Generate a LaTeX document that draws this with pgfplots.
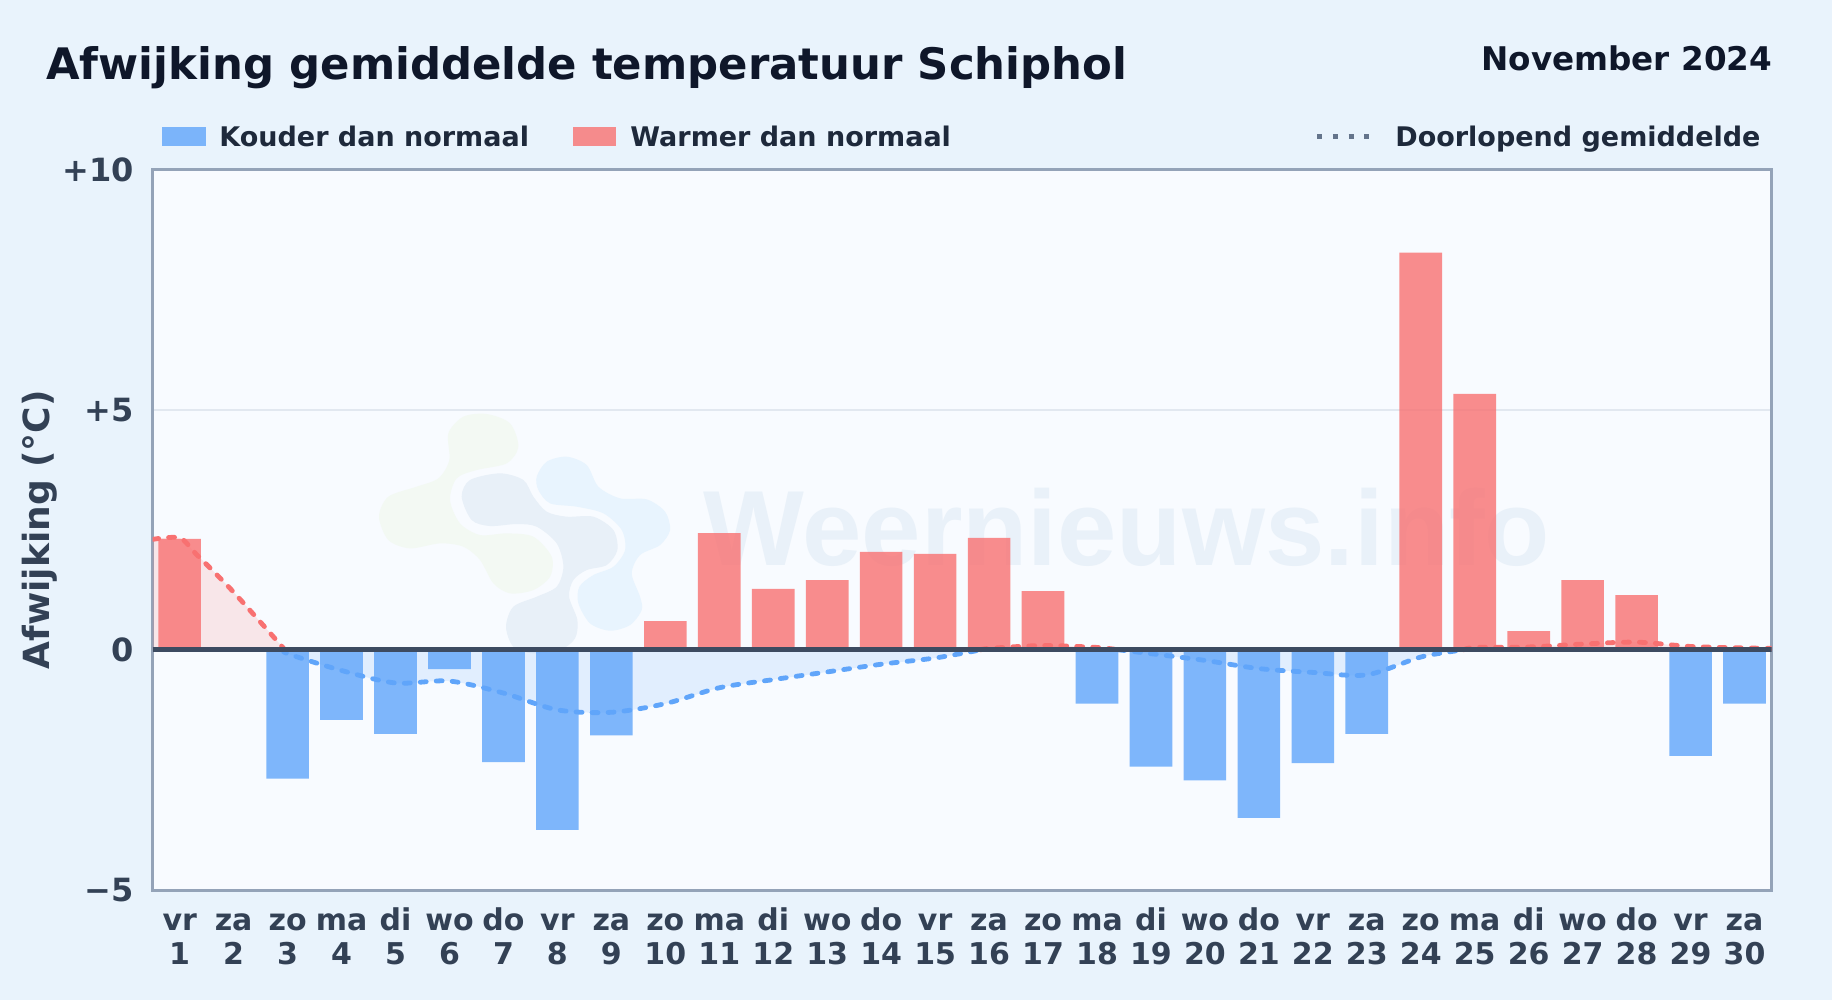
\documentclass[border=0pt]{standalone}
\usepackage{fontspec}
\setmainfont{DejaVu Sans}
\newfontfamily\wmfont{Liberation Sans}
\usepackage{pgfplots}
\pgfplotsset{compat=1.18}

% one reference pixel = 0.5pt
\definecolor{pagebg}{HTML}{E9F3FC}
\definecolor{plotbg}{HTML}{F8FBFF}
\definecolor{framec}{HTML}{94A3B8}
\definecolor{gridc}{HTML}{E2E8F0}
\definecolor{zeroc}{HTML}{3D4B61}
\definecolor{titlec}{HTML}{0F172A}
\definecolor{legc}{HTML}{1E293B}
\definecolor{tickc}{HTML}{334155}
\definecolor{coldc}{HTML}{60A5FA}
\definecolor{warmc}{HTML}{F87171}
\definecolor{dotc}{HTML}{64748B}
\definecolor{wmtext}{HTML}{E9F1F9}
\definecolor{logoa}{HTML}{F3F9F3}
\definecolor{logob}{HTML}{E8F0F8}
\definecolor{logoc}{HTML}{E8F4FE}

% tick label: weekday over day number, same height for all
\newcommand\dl[2]{\rule{0pt}{12pt}#1\\#2}

% bars: day, deviation
\pgfplotstableread{
x y
3 -2.68
4 -1.46
5 -1.75
6 -0.40
7 -2.34
8 -3.75
9 -1.78
18 -1.12
19 -2.43
20 -2.72
21 -3.50
22 -2.36
23 -1.75
29 -2.21
30 -1.12
}\coldbars
\pgfplotstableread{
x y
1 2.31
10 0.60
11 2.43
12 1.27
13 1.45
14 2.04
15 2.00
16 2.33
17 1.22
24 8.27
25 5.33
26 0.39
27 1.45
28 1.14
}\warmbars

\begin{document}
\begin{tikzpicture}
\begin{scope}[x=0.5pt,y=-0.5pt]
  \path[use as bounding box] (0,0) rectangle (1832,1000);
  \fill[pagebg] (0,0) rectangle (1832,1000);
  \fill[plotbg] (152.7,169.5) rectangle (1771.5,890);
  % watermark
  \node[anchor=base west,inner sep=0pt,text=wmtext,font=\fontsize{53.4}{53.4}\selectfont\wmfont\bfseries] at (703,565) {Weernieuws.info};
  \begin{scope}[shift={(360,390)},x=0.1667pt,y=-0.1667pt]
    \fill[logoa] plot[smooth cycle] coordinates {(265,130)(310,80)(380,72)(450,100)(475,170)(440,220)(350,240)(290,265)(270,330)(300,400)(360,435)(440,430)(520,440)(575,500)(570,560)(520,600)(450,610)(400,580)(360,510)(310,470)(240,460)(150,475)(85,450)(57,380)(85,320)(170,290)(235,265)(268,210)};
    \fill[logob] plot[smooth cycle] coordinates {(305,320)(330,270)(420,250)(490,270)(520,320)(560,365)(620,380)(700,380)(760,420)(772,480)(740,525)(680,540)(640,570)(627,620)(652,690)(645,745)(600,780)(520,790)(460,770)(438,710)(460,650)(530,620)(590,590)(610,530)(590,460)(530,410)(470,402)(390,408)(335,390)};
    \fill[logoc] plot[smooth cycle] coordinates {(530,260)(560,215)(620,200)(680,225)(715,290)(780,325)(860,328)(915,365)(930,420)(900,465)(840,495)(815,550)(840,620)(845,660)(810,705)(750,722)(690,700)(655,640)(658,590)(700,555)(760,530)(795,480)(785,420)(730,370)(650,350)(570,340)(535,300)};
  \end{scope}
  % title
  \node[anchor=base west,inner sep=0pt,text=titlec,font=\fontsize{21.7}{21.7}\selectfont\bfseries] at (46,80) {Afwijking gemiddelde temperatuur Schiphol};
  \node[anchor=base east,inner sep=0pt,text=titlec,font=\fontsize{16.3}{16.3}\selectfont\bfseries] at (1772.5,71) {November 2024};
  % legend
  \fill[coldc,fill opacity=0.8] (161.5,127) rectangle (206,146);
  \node[anchor=base west,inner sep=0pt,text=legc,font=\fontsize{13.5}{13.5}\selectfont\bfseries] at (219,147) {Kouder dan normaal};
  \fill[warmc,fill opacity=0.8] (573,127) rectangle (616,146);
  \node[anchor=base west,inner sep=0pt,text=legc,font=\fontsize{13.5}{13.5}\selectfont\bfseries] at (630,147) {Warmer dan normaal};
  \draw[dotc,line width=2.2pt,dash pattern=on 2.5pt off 5.4pt] (1317,136.7) -- (1373,136.7);
  \node[anchor=base west,inner sep=0pt,text=legc,font=\fontsize{13.5}{13.5}\selectfont\bfseries] at (1395,147) {Doorlopend gemiddelde};
\end{scope}

\begin{axis}[
    at={(76.35pt,-445pt)},
    anchor=south west,
    scale only axis,
    width=809.4pt,
    height=360.25pt,
    xmin=0.5, xmax=30.5,
    ymin=-5, ymax=10,
    axis line style={framec,line width=1.5pt},
    major tick length=0pt,
    ymajorgrids,
    grid style={gridc,line width=1pt},
    xtick={1,...,30},
    xticklabels={{\dl{vr}{1}},{\dl{za}{2}},{\dl{zo}{3}},{\dl{ma}{4}},{\dl{di}{5}},{\dl{wo}{6}},{\dl{do}{7}},{\dl{vr}{8}},{\dl{za}{9}},{\dl{zo}{10}},{\dl{ma}{11}},{\dl{di}{12}},{\dl{wo}{13}},{\dl{do}{14}},{\dl{vr}{15}},{\dl{za}{16}},{\dl{zo}{17}},{\dl{ma}{18}},{\dl{di}{19}},{\dl{wo}{20}},{\dl{do}{21}},{\dl{vr}{22}},{\dl{za}{23}},{\dl{zo}{24}},{\dl{ma}{25}},{\dl{di}{26}},{\dl{wo}{27}},{\dl{do}{28}},{\dl{vr}{29}},{\dl{za}{30}}},
    xticklabel style={align=center,text=tickc,font=\fontsize{15}{17}\selectfont\bfseries,yshift=-4.75pt},
    ytick={-5,0,5,10},
    yticklabels={−5,0,+5,+10},
    yticklabel style={text=tickc,font=\fontsize{16}{16}\selectfont\bfseries,xshift=-6pt},
    ylabel={Afwijking (°C)},
    ylabel style={font=\fontsize{18}{18}\selectfont\bfseries,text=tickc,at={(axis description cs:-0.0695,0.5)},anchor=center},
]
% area between running mean and zero
\addplot[draw=none,fill=warmc,fill opacity=0.15,smooth] coordinates {(0.5,2.30)(1,2.33)(1.3,2.0)(2,1.2)(2.95,0)} \closedcycle;
\addplot[draw=none,fill=coldc,fill opacity=0.15,smooth] coordinates {(2.95,0)(3,-0.08)(4,-0.43)(5,-0.69)(6,-0.65)(7,-0.90)(8,-1.25)(9,-1.30)(10,-1.12)(11,-0.79)(12,-0.62)(13,-0.46)(14,-0.30)(15,-0.17)(15.85,0)} \closedcycle;
\addplot[draw=none,fill=warmc,fill opacity=0.15,smooth] coordinates {(15.85,0)(16,0.03)(17,0.09)(18,0.05)(18.4,0)} \closedcycle;
\addplot[draw=none,fill=coldc,fill opacity=0.15,smooth] coordinates {(18.4,0)(19,-0.08)(20,-0.22)(21,-0.39)(22,-0.47)(23,-0.52)(24,-0.15)(24.8,0)} \closedcycle;
\addplot[draw=none,fill=warmc,fill opacity=0.15,smooth] coordinates {(24.8,0)(25,0.05)(26,0.06)(27,0.12)(28,0.16)(29,0.07)(30,0.04)(30.5,0.03)} \closedcycle;
% bars
\addplot[ybar,bar width=0.79,bar shift=0pt,draw=none,fill=coldc,fill opacity=0.8] table {\coldbars};
\addplot[ybar,bar width=0.79,bar shift=0pt,draw=none,fill=warmc,fill opacity=0.8] table {\warmbars};
% running mean
\addplot[warmc,line width=2.4pt,line cap=round,dash pattern=on 3pt off 5pt,smooth] coordinates {(0.5,2.30)(1,2.33)(1.3,2.0)(2,1.2)(2.95,0)};
\addplot[coldc,line width=2.4pt,line cap=round,dash pattern=on 3pt off 5pt,smooth] coordinates {(2.95,0)(3,-0.08)(4,-0.43)(5,-0.69)(6,-0.65)(7,-0.90)(8,-1.25)(9,-1.30)(10,-1.12)(11,-0.79)(12,-0.62)(13,-0.46)(14,-0.30)(15,-0.17)(15.85,0)};
\addplot[warmc,line width=2.4pt,line cap=round,dash pattern=on 3pt off 5pt,smooth] coordinates {(15.85,0)(16,0.03)(17,0.09)(18,0.05)(18.4,0)};
\addplot[coldc,line width=2.4pt,line cap=round,dash pattern=on 3pt off 5pt,smooth] coordinates {(18.4,0)(19,-0.08)(20,-0.22)(21,-0.39)(22,-0.47)(23,-0.52)(24,-0.15)(24.8,0)};
\addplot[warmc,line width=2.4pt,line cap=round,dash pattern=on 3pt off 5pt,smooth] coordinates {(24.8,0)(25,0.05)(26,0.06)(27,0.12)(28,0.16)(29,0.07)(30,0.04)(30.5,0.03)};
% zero line
\addplot[zeroc,line width=2.4pt] coordinates {(0.5,0)(30.5,0)};
\end{axis}
\end{tikzpicture}
\end{document}
